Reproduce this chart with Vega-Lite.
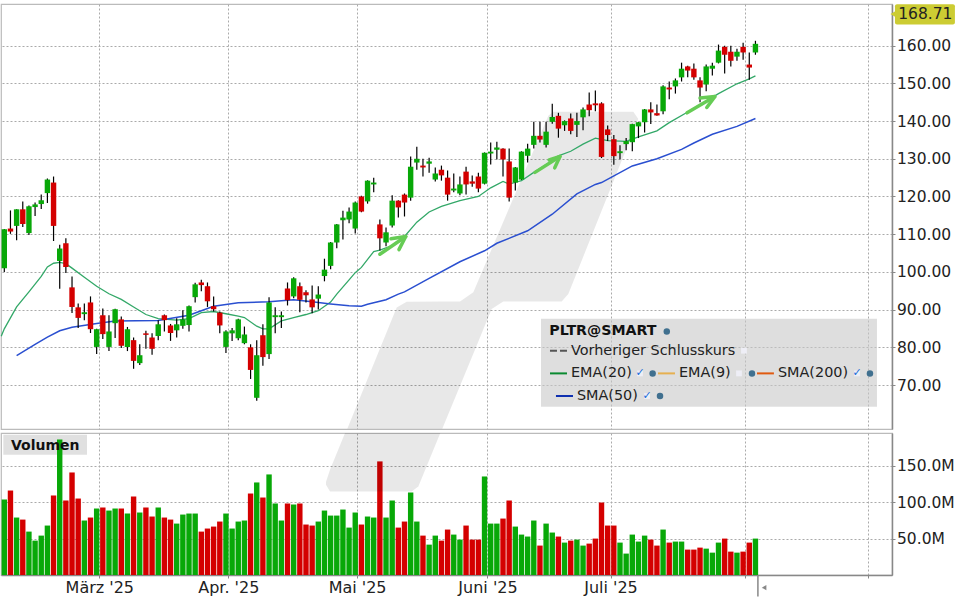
{
  "$schema": "https://vega.github.io/schema/vega-lite/v6.json",
  "background": "white",
  "padding": {"left": -2, "top": 3, "right": 0, "bottom": 0},
  "spacing": 2,
  "datasets": {
    "candles": [
      {"session":0,"open":101,"close":111.3,"high":111.4,"low":100,"volume":103.7,"dir":"up"},
      {"session":1,"open":111.5,"close":110.7,"high":116.3,"low":110.1,"volume":116,"dir":"down"},
      {"session":2,"open":112.2,"close":116.6,"high":116.6,"low":108.4,"volume":78.9,"dir":"up"},
      {"session":3,"open":116.6,"close":112.7,"high":118.7,"low":111.9,"volume":76.1,"dir":"down"},
      {"session":4,"open":110.3,"close":117.4,"high":117.6,"low":109.8,"volume":59.6,"dir":"up"},
      {"session":5,"open":117.2,"close":117.9,"high":118.4,"low":114.8,"volume":47.2,"dir":"up"},
      {"session":6,"open":118,"close":119,"high":120.5,"low":116.7,"volume":54.1,"dir":"up"},
      {"session":7,"open":120.9,"close":124.5,"high":124.8,"low":118.3,"volume":67.9,"dir":"up"},
      {"session":8,"open":123.7,"close":112.2,"high":125.3,"low":108.2,"volume":109.2,"dir":"down"},
      {"session":9,"open":102.9,"close":106.2,"high":107.2,"low":95.5,"volume":186.2,"dir":"up"},
      {"session":10,"open":107.6,"close":101.3,"high":108.9,"low":99.7,"volume":102.3,"dir":"down"},
      {"session":11,"open":95.9,"close":90.7,"high":98.8,"low":89.1,"volume":140.8,"dir":"down"},
      {"session":12,"open":90.6,"close":87.8,"high":91.6,"low":85.1,"volume":105,"dir":"down"},
      {"session":13,"open":88.8,"close":89.3,"high":91.6,"low":87.2,"volume":74.8,"dir":"up"},
      {"session":14,"open":91.9,"close":84.8,"high":93.5,"low":83.8,"volume":78.9,"dir":"down"},
      {"session":15,"open":80.1,"close":84.8,"high":84.9,"low":78.2,"volume":91.3,"dir":"up"},
      {"session":16,"open":88.5,"close":83.5,"high":90.3,"low":82.2,"volume":92.7,"dir":"down"},
      {"session":17,"open":80.1,"close":84.2,"high":88.5,"low":79,"volume":88.5,"dir":"up"},
      {"session":18,"open":86.4,"close":90.1,"high":90.2,"low":82.5,"volume":91.3,"dir":"up"},
      {"session":19,"open":87.4,"close":80.4,"high":88.2,"low":79.8,"volume":91.3,"dir":"down"},
      {"session":20,"open":80.1,"close":84.8,"high":85.4,"low":79,"volume":84.4,"dir":"up"},
      {"session":21,"open":81.9,"close":76.4,"high":82.6,"low":74.3,"volume":107.8,"dir":"down"},
      {"session":22,"open":75.8,"close":77.9,"high":80.8,"low":75.3,"volume":85.8,"dir":"up"},
      {"session":23,"open":83.7,"close":83.3,"high":84.4,"low":79.6,"volume":92.7,"dir":"down"},
      {"session":24,"open":82.6,"close":79.6,"high":83.7,"low":78,"volume":80.3,"dir":"down"},
      {"session":25,"open":83,"close":86.1,"high":87.2,"low":81.9,"volume":92.7,"dir":"up"},
      {"session":26,"open":88.5,"close":87.2,"high":88.7,"low":84.2,"volume":78.9,"dir":"down"},
      {"session":27,"open":85.8,"close":83.8,"high":86.2,"low":81.7,"volume":76.1,"dir":"down"},
      {"session":28,"open":84.5,"close":86.1,"high":87.7,"low":82.6,"volume":70.6,"dir":"up"},
      {"session":29,"open":85.7,"close":87.4,"high":89.8,"low":84.9,"volume":83,"dir":"up"},
      {"session":30,"open":85.9,"close":90.9,"high":91.1,"low":84.2,"volume":84.4,"dir":"up"},
      {"session":31,"open":93.3,"close":96.7,"high":97.1,"low":91.9,"volume":84.4,"dir":"up"},
      {"session":32,"open":97.2,"close":96.5,"high":97.9,"low":94.9,"volume":59.6,"dir":"down"},
      {"session":33,"open":96.2,"close":92.2,"high":97.2,"low":90.7,"volume":63.8,"dir":"down"},
      {"session":34,"open":90.9,"close":90.1,"high":93.5,"low":89.5,"volume":66.5,"dir":"down"},
      {"session":35,"open":89.2,"close":85.8,"high":89.5,"low":83.7,"volume":73.4,"dir":"down"},
      {"session":36,"open":80.1,"close":84.2,"high":84.5,"low":78.5,"volume":84.4,"dir":"up"},
      {"session":37,"open":83.7,"close":84.5,"high":85.1,"low":81.7,"volume":63.8,"dir":"up"},
      {"session":38,"open":82.4,"close":87.4,"high":87.6,"low":81.9,"volume":73.4,"dir":"up"},
      {"session":39,"open":81.1,"close":83.4,"high":85.5,"low":80.8,"volume":74.8,"dir":"up"},
      {"session":40,"open":80,"close":74,"high":80.8,"low":71.6,"volume":111.9,"dir":"down"},
      {"session":41,"open":66.6,"close":77.9,"high":81.9,"low":65.8,"volume":127.1,"dir":"up"},
      {"session":42,"open":83.2,"close":77.4,"high":86.1,"low":75.1,"volume":106.4,"dir":"down"},
      {"session":43,"open":78.2,"close":91.9,"high":93.3,"low":76.9,"volume":138.1,"dir":"up"},
      {"session":44,"open":88,"close":88.5,"high":90.6,"low":83.7,"volume":98.2,"dir":"up"},
      {"session":45,"open":88,"close":88.5,"high":89.5,"low":85.1,"volume":74.8,"dir":"up"},
      {"session":46,"open":95.6,"close":92.5,"high":97.2,"low":91.1,"volume":98.2,"dir":"down"},
      {"session":47,"open":93.5,"close":98.3,"high":98.6,"low":93,"volume":96.8,"dir":"up"},
      {"session":48,"open":96.2,"close":92.6,"high":97.2,"low":89.3,"volume":98.2,"dir":"down"},
      {"session":49,"open":94.6,"close":93.8,"high":95.1,"low":91.9,"volume":69.3,"dir":"down"},
      {"session":50,"open":92.7,"close":90.6,"high":96.4,"low":89,"volume":67.9,"dir":"down"},
      {"session":51,"open":92.9,"close":94,"high":96.2,"low":90,"volume":73.4,"dir":"up"},
      {"session":52,"open":98.9,"close":100.6,"high":103.5,"low":97.5,"volume":88.5,"dir":"up"},
      {"session":53,"open":101.6,"close":107.8,"high":107.9,"low":100.7,"volume":81.6,"dir":"up"},
      {"session":54,"open":107.8,"close":112.6,"high":112.7,"low":106.3,"volume":81.6,"dir":"up"},
      {"session":55,"open":113.7,"close":114.4,"high":116.2,"low":108.6,"volume":89.9,"dir":"up"},
      {"session":56,"open":113.9,"close":116,"high":117.1,"low":112.9,"volume":65.1,"dir":"up"},
      {"session":57,"open":111.5,"close":118.4,"high":118.7,"low":110.2,"volume":85.8,"dir":"up"},
      {"session":58,"open":120,"close":116,"high":120.2,"low":115.8,"volume":69.3,"dir":"down"},
      {"session":59,"open":118.7,"close":124.2,"high":124.3,"low":118.1,"volume":80.3,"dir":"up"},
      {"session":60,"open":123.2,"close":123.7,"high":125,"low":121.1,"volume":78.9,"dir":"up"},
      {"session":61,"open":112.6,"close":108.9,"high":113.9,"low":105.7,"volume":156,"dir":"down"},
      {"session":62,"open":107.8,"close":110.5,"high":111.8,"low":106.8,"volume":78.9,"dir":"up"},
      {"session":63,"open":112.3,"close":118.9,"high":120.3,"low":111.8,"volume":102.3,"dir":"up"},
      {"session":64,"open":118.9,"close":117.1,"high":119,"low":114.4,"volume":65.1,"dir":"down"},
      {"session":65,"open":120.5,"close":118.4,"high":120.8,"low":114.7,"volume":73.4,"dir":"down"},
      {"session":66,"open":119.7,"close":127.9,"high":130.6,"low":118.9,"volume":113.3,"dir":"up"},
      {"session":67,"open":129,"close":130,"high":133.2,"low":127.1,"volume":73.4,"dir":"up"},
      {"session":68,"open":128.2,"close":127.7,"high":130,"low":125.3,"volume":54.1,"dir":"down"},
      {"session":69,"open":128.7,"close":129.3,"high":130.3,"low":126.3,"volume":41.7,"dir":"up"},
      {"session":70,"open":124.5,"close":126.1,"high":127.7,"low":124,"volume":54.1,"dir":"up"},
      {"session":71,"open":127.1,"close":125.6,"high":128.2,"low":124.2,"volume":47.2,"dir":"down"},
      {"session":72,"open":125,"close":120.5,"high":126.9,"low":118.9,"volume":62.4,"dir":"down"},
      {"session":73,"open":121.6,"close":122.1,"high":126.1,"low":121.1,"volume":55.5,"dir":"up"},
      {"session":74,"open":120.8,"close":123.2,"high":125.3,"low":120.3,"volume":48.6,"dir":"up"},
      {"session":75,"open":126.6,"close":123.2,"high":127.9,"low":120.5,"volume":67.9,"dir":"down"},
      {"session":76,"open":124,"close":123.4,"high":125.6,"low":122.6,"volume":48.6,"dir":"down"},
      {"session":77,"open":125.3,"close":122.1,"high":126.3,"low":121.1,"volume":48.6,"dir":"down"},
      {"session":78,"open":123.4,"close":131.6,"high":131.7,"low":123.2,"volume":135.3,"dir":"up"},
      {"session":79,"open":131.4,"close":131.9,"high":134.3,"low":128.5,"volume":70.6,"dir":"up"},
      {"session":80,"open":132.4,"close":133,"high":134.5,"low":129.8,"volume":70.6,"dir":"up"},
      {"session":81,"open":132.7,"close":129.8,"high":132.8,"low":125.3,"volume":77.5,"dir":"down"},
      {"session":82,"open":129.3,"close":119.7,"high":132.7,"low":118.7,"volume":102.3,"dir":"down"},
      {"session":83,"open":123.7,"close":127.7,"high":127.8,"low":121.6,"volume":66.5,"dir":"up"},
      {"session":84,"open":124.5,"close":131.9,"high":132,"low":124.4,"volume":55.5,"dir":"up"},
      {"session":85,"open":130.8,"close":132.7,"high":134,"low":129,"volume":52.8,"dir":"up"},
      {"session":86,"open":133.7,"close":136.1,"high":139.8,"low":132.7,"volume":74.8,"dir":"up"},
      {"session":87,"open":136.1,"close":135.1,"high":139.8,"low":134.3,"volume":40.4,"dir":"down"},
      {"session":88,"open":133.7,"close":137.2,"high":139.8,"low":133,"volume":70.6,"dir":"up"},
      {"session":89,"open":139.8,"close":141.1,"high":144.6,"low":139.3,"volume":58.3,"dir":"up"},
      {"session":90,"open":141.4,"close":138,"high":142.2,"low":135.6,"volume":52.8,"dir":"down"},
      {"session":91,"open":138.9,"close":140,"high":140.2,"low":137.4,"volume":44.5,"dir":"up"},
      {"session":92,"open":140.7,"close":137.4,"high":142,"low":136.5,"volume":47.2,"dir":"down"},
      {"session":93,"open":139,"close":140,"high":142.2,"low":135.8,"volume":48.6,"dir":"up"},
      {"session":94,"open":141,"close":143.1,"high":143.6,"low":137.6,"volume":40.4,"dir":"up"},
      {"session":95,"open":144.4,"close":142.9,"high":147.6,"low":141.3,"volume":43.1,"dir":"down"},
      {"session":96,"open":144.7,"close":144.2,"high":148.1,"low":142.6,"volume":50,"dir":"down"},
      {"session":97,"open":144.7,"close":130.5,"high":145,"low":130.2,"volume":99.5,"dir":"down"},
      {"session":98,"open":137.8,"close":136.3,"high":138.8,"low":134.7,"volume":67.9,"dir":"down"},
      {"session":99,"open":135.2,"close":130.7,"high":136.3,"low":128.4,"volume":67.9,"dir":"down"},
      {"session":100,"open":131.5,"close":132,"high":133.6,"low":129.9,"volume":44.5,"dir":"up"},
      {"session":101,"open":133.9,"close":134.7,"high":135.5,"low":132.3,"volume":29.4,"dir":"up"},
      {"session":102,"open":134.4,"close":139.2,"high":139.3,"low":132,"volume":55.5,"dir":"up"},
      {"session":103,"open":138.6,"close":139.7,"high":139.8,"low":135.5,"volume":45.9,"dir":"up"},
      {"session":104,"open":139.7,"close":143.1,"high":143.2,"low":137,"volume":54.1,"dir":"up"},
      {"session":105,"open":143.1,"close":142.3,"high":145,"low":139.2,"volume":48.6,"dir":"down"},
      {"session":106,"open":142.1,"close":141.5,"high":144.4,"low":141.4,"volume":40.4,"dir":"down"},
      {"session":107,"open":142.6,"close":149.2,"high":149.5,"low":141.8,"volume":62.4,"dir":"up"},
      {"session":108,"open":148.9,"close":148.4,"high":150.5,"low":145.8,"volume":44.5,"dir":"down"},
      {"session":109,"open":149.2,"close":150.8,"high":151.3,"low":147.3,"volume":45.9,"dir":"up"},
      {"session":110,"open":151.6,"close":153.9,"high":155.5,"low":150.5,"volume":45.9,"dir":"up"},
      {"session":111,"open":154.5,"close":153.4,"high":154.7,"low":151.6,"volume":34.9,"dir":"down"},
      {"session":112,"open":153.9,"close":151.6,"high":155.3,"low":151,"volume":34.9,"dir":"down"},
      {"session":113,"open":150.8,"close":148.9,"high":151.6,"low":145,"volume":37.6,"dir":"down"},
      {"session":114,"open":149.7,"close":154.5,"high":155,"low":147.9,"volume":36.2,"dir":"up"},
      {"session":115,"open":153.9,"close":154.7,"high":155.5,"low":152.1,"volume":30.7,"dir":"up"},
      {"session":116,"open":155.5,"close":158.7,"high":160.3,"low":155.3,"volume":44.5,"dir":"up"},
      {"session":117,"open":159.7,"close":157.6,"high":160,"low":152.6,"volume":50,"dir":"down"},
      {"session":118,"open":158.4,"close":156,"high":160,"low":154.5,"volume":32.1,"dir":"down"},
      {"session":119,"open":157.1,"close":158.4,"high":159.2,"low":156,"volume":30.7,"dir":"up"},
      {"session":120,"open":159.7,"close":158.2,"high":160.8,"low":156.3,"volume":32.1,"dir":"down"},
      {"session":121,"open":155,"close":154.2,"high":158.2,"low":151,"volume":44.5,"dir":"down"},
      {"session":122,"open":158.2,"close":160.5,"high":161.3,"low":157.6,"volume":50,"dir":"up"}
    ],
    "ema": [
      {"session":-0.5,"value":82.9},{"session":0,"value":84.9},{"session":2,"value":90.7},{"session":4,"value":94.7},{"session":6,"value":98.8},{"session":7,"value":101.3},{"session":8,"value":102.3},{"session":9,"value":102.5},{"session":10,"value":102.2},{"session":11,"value":101},{"session":13,"value":98.6},{"session":15,"value":96.2},{"session":17,"value":94.2},{"session":19,"value":92.7},{"session":21,"value":90.7},{"session":23,"value":88.7},{"session":25,"value":87.6},{"session":28,"value":87.2},{"session":30,"value":87.6},{"session":32,"value":89.2},{"session":34,"value":89.5},{"session":36,"value":88.9},{"session":38,"value":88.3},{"session":39,"value":87.9},{"session":41,"value":85.6},{"session":42,"value":84.9},{"session":43,"value":84.9},{"session":45,"value":87},{"session":47,"value":87.9},{"session":49,"value":88.7},{"session":51,"value":89.7},{"session":53,"value":92},{"session":54,"value":94.1},{"session":56,"value":97.9},{"session":57,"value":99.8},{"session":58,"value":101.2},{"session":60,"value":105.4},{"session":61,"value":105.8},{"session":63,"value":107},{"session":65,"value":109.4},{"session":67,"value":113.2},{"session":69,"value":115.9},{"session":71,"value":117.4},{"session":74,"value":118.9},{"session":77,"value":120},{"session":79,"value":122.3},{"session":81,"value":124},{"session":82,"value":123.3},{"session":84,"value":124.2},{"session":86,"value":126.4},{"session":89,"value":129.5},{"session":90,"value":130.8},{"session":92,"value":132},{"session":94,"value":133.9},{"session":96,"value":135.5},{"session":98,"value":134.8},{"session":101,"value":134.6},{"session":103,"value":135.8},{"session":106,"value":137.4},{"session":108,"value":139.6},{"session":111,"value":142.4},{"session":114,"value":145.3},{"session":116,"value":147.3},{"session":119,"value":149.9},{"session":121,"value":151.2},{"session":122,"value":152}
    ],
    "sma": [
      {"session":2,"value":77.8},{"session":5,"value":80.8},{"session":7,"value":82.7},{"session":9,"value":84.4},{"session":11,"value":85.3},{"session":15,"value":86.3},{"session":18,"value":87},{"session":25,"value":87.1},{"session":30,"value":88.5},{"session":32,"value":89.7},{"session":34,"value":90.9},{"session":38,"value":91.8},{"session":43,"value":92.1},{"session":47,"value":92.6},{"session":50,"value":92.1},{"session":53,"value":91.5},{"session":56,"value":91},{"session":58,"value":90.9},{"session":59,"value":91.4},{"session":62,"value":92.6},{"session":64,"value":94.1},{"session":65,"value":94.7},{"session":69,"value":98.3},{"session":74,"value":102.7},{"session":78,"value":105.6},{"session":80,"value":107.6},{"session":85,"value":110.9},{"session":89,"value":115.3},{"session":93,"value":120.7},{"session":96,"value":123.2},{"session":97,"value":123.7},{"session":102,"value":128.1},{"session":106,"value":130},{"session":110,"value":132.5},{"session":112,"value":134.2},{"session":115,"value":136.5},{"session":119,"value":138.6},{"session":122,"value":140.7}
    ],
    "arrows": [
      {"part":"a1","step":0,"session":61,"price":104.7},{"part":"a1","step":1,"session":65.2,"price":109.4},
      {"part":"a1h","step":0,"session":62.8,"price":108.8},{"part":"a1h","step":1,"session":65.2,"price":109.4},{"part":"a1h","step":2,"session":64.1,"price":105.9},
      {"part":"a2","step":0,"session":86.2,"price":126.4},{"part":"a2","step":1,"session":90.25,"price":130.6},
      {"part":"a2h","step":0,"session":88.5,"price":129.7},{"part":"a2h","step":1,"session":90.25,"price":130.6},{"part":"a2h","step":2,"session":89.4,"price":127.6},
      {"part":"a3","step":0,"session":110.9,"price":142.2},{"part":"a3","step":1,"session":115.4,"price":146.5},
      {"part":"a3h","step":0,"session":113,"price":146.1},{"part":"a3h","step":1,"session":115.4,"price":146.5},{"part":"a3h","step":2,"session":114.1,"price":143.6}
    ],
    "legendText": [
      {"label":"Vorheriger Schlusskurs","session":92.04,"price":79.1},
      {"label":"EMA(20)","session":92.04,"price":73.08},
      {"label":"EMA(9)","session":109.58,"price":73.08},
      {"label":"SMA(200)","session":125.66,"price":73.08},
      {"label":"SMA(50)","session":93,"price":67.08}
    ],
    "legendLines": [
      {"series":"EMA(20)","session":88.63,"end":91.39,"price":73.08},
      {"series":"EMA(9)","session":106.17,"end":108.93,"price":73.08},
      {"series":"SMA(200)","session":122.25,"end":125,"price":73.08},
      {"series":"SMA(50)","session":89.6,"end":92.37,"price":67.08}
    ],
    "legendGlobes": [
      {"session":107.6,"price":84.2},{"session":105.3,"price":73.08},{"session":121.44,"price":73.08},{"session":140.6,"price":73.08},{"session":106.5,"price":67.08}
    ],
    "legendBoxes": [
      {"session":120.14,"price":79.1,"checked":false},
      {"session":103.25,"price":73.08,"checked":true},
      {"session":119.33,"price":73.08,"checked":false},
      {"session":138.5,"price":73.08,"checked":true},
      {"session":104.4,"price":67.08,"checked":true}
    ]
  },
  "vconcat": [
    {
      "width": 891,
      "height": 425,
      "layer": [
        {
          "data": {"values": [
            {"session":55.71,"top":58.4,"bottom":58.4},{"session":63.73,"top":90.59,"bottom":58.4},{"session":65.35,"top":92.1,"bottom":58.4},{"session":71.14,"top":92.18,"bottom":58.4},{"session":74.01,"top":92.18,"bottom":69.73},{"session":76.18,"top":94.57,"bottom":78.3},{"session":79.16,"top":106.07,"bottom":90.15},{"session":81.05,"top":113.32,"bottom":92.18},{"session":88.36,"top":141.43,"bottom":92.18},{"session":89.17,"top":142.49,"bottom":92.18},{"session":90.53,"top":142.49,"bottom":92.18},{"session":91.61,"top":142.49,"bottom":94.13},{"session":102.17,"top":142.49,"bottom":137.23},{"session":102.98,"top":140.55,"bottom":140.55}
          ]},
          "mark": {"type": "area", "color": "#000", "opacity": 0.09},
          "encoding": {
            "x": {
              "field": "session", "type": "quantitative",
              "scale": {"domain": [-0.536, 144.18], "nice": false, "zero": false, "padding": 0},
              "axis": {"title": null, "labels": false, "ticks": false, "domain": false, "values": [15.43, 36.38, 57.3, 78.48, 98.46, 120.38, 140.36], "grid": true}
            },
            "y": {
              "field": "top", "type": "quantitative",
              "scale": {"domain": [58.33, 171.06], "nice": false, "zero": false},
              "axis": {"title": null, "orient": "right", "values": [70, 80, 90, 100, 110, 120, 130, 140, 150, 160], "format": ".2f", "grid": true, "domain": true, "domainColor": "#888", "domainWidth": 1.5}
            },
            "y2": {"field": "bottom"}
          }
        },
        {
          "data": {"values": [{"left": 87.17, "right": 141.74, "top": 87.6, "bottom": 64.24}]},
          "mark": {"type": "rect", "color": "#c8c8c8", "opacity": 0.6},
          "encoding": {
            "x": {"field": "left", "type": "quantitative"},
            "x2": {"field": "right"},
            "y": {"field": "top", "type": "quantitative"},
            "y2": {"field": "bottom"}
          }
        },
        {
          "data": {"name": "ema"},
          "mark": {"type": "line", "color": "#33a868", "strokeWidth": 1.3},
          "encoding": {
            "x": {"field": "session", "type": "quantitative"},
            "y": {"field": "value", "type": "quantitative"}
          }
        },
        {
          "data": {"name": "sma"},
          "mark": {"type": "line", "color": "#2a4fd0", "strokeWidth": 1.5},
          "encoding": {
            "x": {"field": "session", "type": "quantitative"},
            "y": {"field": "value", "type": "quantitative"}
          }
        },
        {
          "data": {"name": "candles"},
          "mark": {"type": "rule", "color": "#000", "strokeWidth": 1.2},
          "encoding": {
            "x": {"field": "session", "type": "quantitative"},
            "y": {"field": "low", "type": "quantitative"},
            "y2": {"field": "high"}
          }
        },
        {
          "data": {"name": "candles"},
          "mark": {"type": "bar", "size": 5.4, "orient": "vertical"},
          "encoding": {
            "x": {"field": "session", "type": "quantitative"},
            "y": {"field": "open", "type": "quantitative"},
            "y2": {"field": "close"},
            "color": {"field": "dir", "type": "nominal", "scale": {"domain": ["up", "down"], "range": ["#08a808", "#d40000"]}, "legend": null}
          }
        },
        {
          "data": {"name": "arrows"},
          "mark": {"type": "line", "color": "#66cc55", "strokeWidth": 3.5, "strokeCap": "round", "strokeJoin": "round"},
          "encoding": {
            "x": {"field": "session", "type": "quantitative"},
            "y": {"field": "price", "type": "quantitative"},
            "detail": {"field": "part"},
            "order": {"field": "step"}
          }
        },
        {
          "data": {"values": [{"session": 88.52, "price": 84.2, "label": "PLTR@SMART"}]},
          "mark": {"type": "text", "align": "left", "baseline": "middle", "fontSize": 14.2, "fontWeight": "bold", "color": "#111"},
          "encoding": {
            "x": {"field": "session", "type": "quantitative"},
            "y": {"field": "price", "type": "quantitative"},
            "text": {"field": "label"}
          }
        },
        {
          "data": {"name": "legendText"},
          "mark": {"type": "text", "align": "left", "baseline": "middle", "fontSize": 14.4, "color": "#222"},
          "encoding": {
            "x": {"field": "session", "type": "quantitative"},
            "y": {"field": "price", "type": "quantitative"},
            "text": {"field": "label"}
          }
        },
        {
          "data": {"values": [{"session": 88.63, "end": 91.39, "price": 79.1}]},
          "mark": {"type": "rule", "color": "#555", "strokeWidth": 2, "strokeDash": [7, 3]},
          "encoding": {
            "x": {"field": "session", "type": "quantitative"},
            "x2": {"field": "end"},
            "y": {"field": "price", "type": "quantitative"}
          }
        },
        {
          "data": {"name": "legendLines"},
          "mark": {"type": "rule", "strokeWidth": 2},
          "encoding": {
            "x": {"field": "session", "type": "quantitative"},
            "x2": {"field": "end"},
            "y": {"field": "price", "type": "quantitative"},
            "stroke": {"field": "series", "type": "nominal", "scale": {"domain": ["EMA(20)", "EMA(9)", "SMA(200)", "SMA(50)"], "range": ["#0a8a30", "#e6b050", "#e05a10", "#1030b0"]}, "legend": null}
          }
        },
        {
          "data": {"name": "legendBoxes"},
          "mark": {"type": "point", "shape": "square", "filled": true, "size": 34, "color": "#eeeef6", "opacity": 1},
          "encoding": {
            "x": {"field": "session", "type": "quantitative"},
            "y": {"field": "price", "type": "quantitative"}
          }
        },
        {
          "data": {"name": "legendBoxes"},
          "transform": [{"filter": "datum.checked"}],
          "mark": {"type": "text", "text": "✓", "fontSize": 11, "fontWeight": "bold", "color": "#1a6fd8", "baseline": "middle"},
          "encoding": {
            "x": {"field": "session", "type": "quantitative"},
            "y": {"field": "price", "type": "quantitative"}
          }
        },
        {
          "data": {"name": "legendGlobes"},
          "mark": {"type": "point", "shape": "circle", "filled": true, "size": 42, "color": "#40708f", "opacity": 1},
          "encoding": {
            "x": {"field": "session", "type": "quantitative"},
            "y": {"field": "price", "type": "quantitative"}
          }
        },
        {
          "data": {"values": [{"left": 144.66, "right": 154.4, "top": 171, "bottom": 165.6}]},
          "mark": {"type": "rect", "color": "#cccc33", "cornerRadius": 2},
          "encoding": {
            "x": {"field": "left", "type": "quantitative"},
            "x2": {"field": "right"},
            "y": {"field": "top", "type": "quantitative"},
            "y2": {"field": "bottom"}
          }
        },
        {
          "data": {"values": [{"session": 144.4, "price": 168.4}]},
          "mark": {"type": "point", "shape": "triangle-left", "filled": true, "size": 45, "color": "#cccc33", "opacity": 1},
          "encoding": {
            "x": {"field": "session", "type": "quantitative"},
            "y": {"field": "price", "type": "quantitative"}
          }
        },
        {
          "data": {"values": [{"session": 149.6, "price": 168.4, "last": 168.71}]},
          "mark": {"type": "text", "fontSize": 15.5, "baseline": "middle", "color": "#222"},
          "encoding": {
            "x": {"field": "session", "type": "quantitative"},
            "y": {"field": "price", "type": "quantitative"},
            "text": {"field": "last", "format": ".2f"}
          }
        }
      ]
    },
    {
      "width": 891,
      "height": 142,
      "layer": [
        {
          "data": {"values": [{"left": -0.16, "right": 13.43, "top": 192.5, "bottom": 165}]},
          "mark": {"type": "rect", "color": "#e0e0e0"},
          "encoding": {
            "x": {
              "field": "left", "type": "quantitative",
              "scale": {"domain": [-0.536, 144.18], "nice": false, "zero": false, "padding": 0},
              "axis": {
                "title": null, "values": [15.43, 36.38, 57.3, 78.48, 98.46, 120.38, 140.36], "grid": true, "domainColor": "#888", "domainWidth": 1.5, "labelFontSize": 16,
                "labelExpr": "datum.value < 20 ? \"März '25\" : datum.value < 40 ? \"Apr. '25\" : datum.value < 60 ? \"Mai '25\" : datum.value < 80 ? \"Juni '25\" : datum.value < 100 ? \"Juli '25\" : ''"
              }
            },
            "x2": {"field": "right"},
            "y": {
              "field": "top", "type": "quantitative",
              "scale": {"domain": [0, 195], "nice": false},
              "axis": {"title": null, "orient": "right", "values": [50, 100, 150], "labelExpr": "format(datum.value, '.1f') + 'M'", "grid": true, "domain": true, "domainColor": "#888", "domainWidth": 1.5}
            },
            "y2": {"field": "bottom"}
          }
        },
        {
          "data": {"name": "candles"},
          "mark": {"type": "bar", "size": 5.4, "orient": "vertical"},
          "encoding": {
            "x": {"field": "session", "type": "quantitative"},
            "y": {"field": "volume", "type": "quantitative", "stack": null},
            "color": {"field": "dir", "type": "nominal", "scale": {"domain": ["up", "down"], "range": ["#08a808", "#d40000"]}, "legend": null}
          }
        },
        {
          "data": {"values": [
            {"session":52.25,"top":128,"bottom":124},{"session":52.9,"top":144.5,"bottom":114.7},{"session":55.34,"top":195,"bottom":114.7},{"session":66.16,"top":195,"bottom":114.7},{"session":67.25,"top":195,"bottom":121.6},{"session":70.82,"top":195,"bottom":195}
          ]},
          "mark": {"type": "area", "color": "#000", "opacity": 0.09},
          "encoding": {
            "x": {"field": "session", "type": "quantitative"},
            "y": {"field": "top", "type": "quantitative"},
            "y2": {"field": "bottom"}
          }
        },
        {
          "data": {"values": [{"session": 1.09, "amount": 177.4, "label": "Volumen"}]},
          "mark": {"type": "text", "align": "left", "baseline": "middle", "fontSize": 14, "fontWeight": "bold", "color": "#111"},
          "encoding": {
            "x": {"field": "session", "type": "quantitative"},
            "y": {"field": "amount", "type": "quantitative"},
            "text": {"field": "label"}
          }
        },
        {
          "data": {"values": [{"session": 122.4, "from": 0, "to": -29.4}]},
          "mark": {"type": "rule", "color": "#888", "strokeWidth": 1.5},
          "encoding": {
            "x": {"field": "session", "type": "quantitative"},
            "y": {"field": "from", "type": "quantitative"},
            "y2": {"field": "to"}
          }
        },
        {
          "data": {"values": [{"session": 123.4, "amount": -17.4}]},
          "mark": {"type": "point", "shape": "triangle-left", "filled": true, "size": 28, "color": "#888", "opacity": 1},
          "encoding": {
            "x": {"field": "session", "type": "quantitative"},
            "y": {"field": "amount", "type": "quantitative"}
          }
        }
      ]
    }
  ],
  "config": {
    "font": "DejaVu Sans",
    "view": {"stroke": "#bbb", "strokeWidth": 1.2},
    "axis": {
      "labelFont": "DejaVu Sans",
      "labelFontSize": 15.5,
      "labelColor": "#222",
      "labelOverlap": false,
      "labelFlush": false,
      "labelPadding": 1.5,
      "tickSize": 3,
      "tickColor": "#888",
      "gridColor": "#aaa",
      "gridDash": [2, 2],
      "gridWidth": 1
    }
  }
}
